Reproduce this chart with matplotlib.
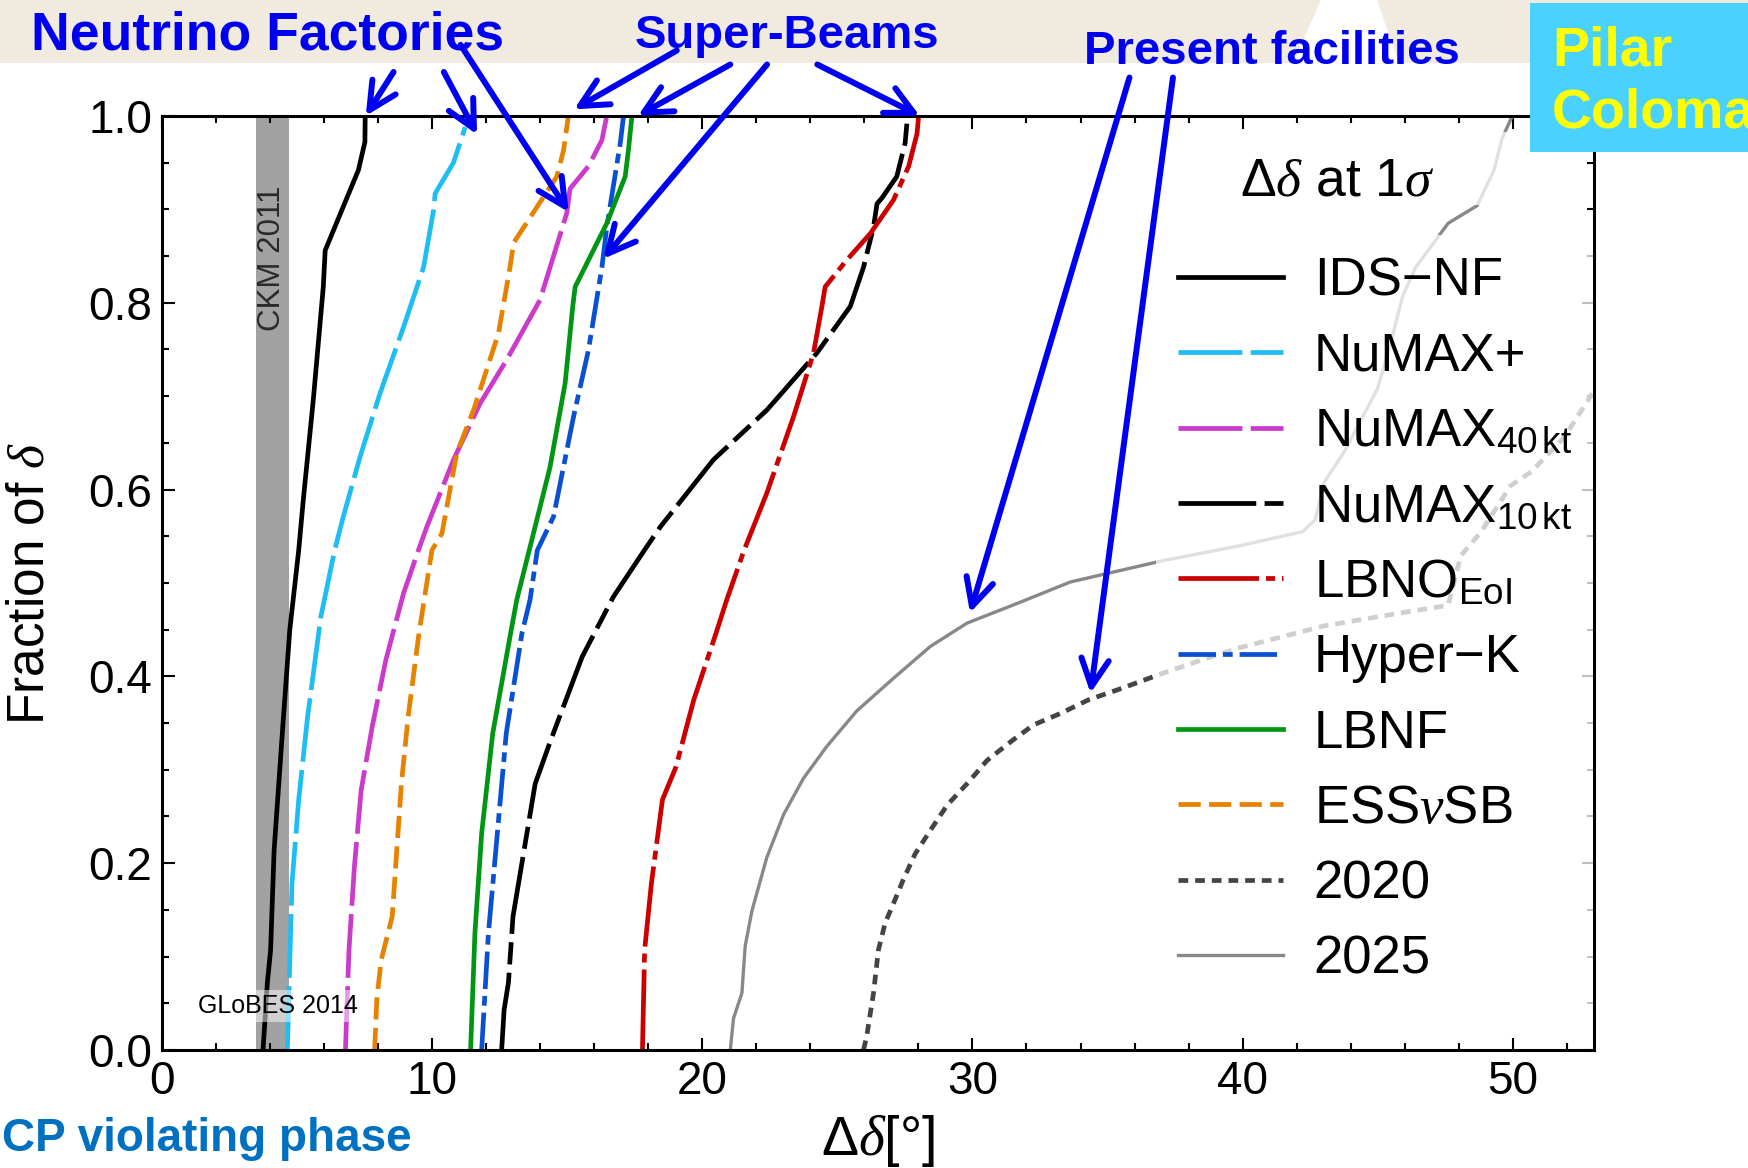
import matplotlib
matplotlib.use("Agg")
import matplotlib.pyplot as plt
from matplotlib.patches import Rectangle, Polygon

plt.rcParams['font.family'] = ['Liberation Sans', 'DejaVu Sans']
plt.rcParams['mathtext.fontset'] = 'custom'
plt.rcParams['mathtext.rm'] = 'Liberation Sans'
plt.rcParams['mathtext.it'] = 'Liberation Serif:italic'
plt.rcParams['mathtext.bf'] = 'Liberation Sans:bold'
plt.rcParams['lines.scale_dashes'] = False

# --- data: fraction of delta (y) vs Delta delta in degrees (x) ---
ids_y = [0, 0.072, 0.107, 0.214, 0.35, 0.45, 0.535, 0.589, 0.696, 0.817, 0.856, 0.942, 0.972, 1.0]
ids_x = [3.75, 3.91, 4.03, 4.16, 4.49, 4.74, 5.07, 5.24, 5.61, 5.98, 6.05, 7.28, 7.52, 7.53]

numaxp_y = [0, 0.178, 0.268, 0.357, 0.464, 0.535, 0.571, 0.635, 0.703, 0.774, 0.838, 0.899, 0.917, 0.95, 0.988]
numaxp_x = [4.65, 4.82, 5.07, 5.40, 5.89, 6.40, 6.72, 7.34, 8.08, 8.95, 9.69, 10.06, 10.12, 10.8, 11.23]

numax40_y = [0, 0.107, 0.196, 0.278, 0.346, 0.417, 0.489, 0.535, 0.56, 0.632, 0.692, 0.739, 0.803,
             0.896, 0.922, 0.946, 0.974, 1.0]
numax40_x = [6.80, 6.93, 7.13, 7.38, 7.79, 8.29, 8.95, 9.50, 9.81, 10.80, 11.78, 12.77, 14.0,
             14.99, 15.11, 15.79, 16.29, 16.47]

numax10_y = [0, 0.043, 0.072, 0.143, 0.214, 0.285, 0.332, 0.421, 0.485, 0.535, 0.560, 0.632, 0.685,
             0.746, 0.796, 0.838, 0.881, 0.906, 0.912, 0.935, 0.971, 1.0]
numax10_x = [12.58, 12.67, 12.83, 13.0, 13.41, 13.82, 14.40, 15.56, 16.71, 17.86, 18.45, 20.42, 22.39,
             24.24, 25.48, 25.97, 26.34, 26.47, 26.65, 27.2, 27.51, 27.6]

lbno_y = [0, 0.107, 0.178, 0.268, 0.303, 0.375, 0.446, 0.482, 0.535, 0.596, 0.678, 0.746, 0.796,
          0.817, 0.846, 0.874, 0.910, 0.946, 0.981, 1.0]
lbno_x = [17.79, 17.87, 18.12, 18.53, 19.03, 19.69, 20.51, 20.91, 21.55, 22.39, 23.38, 24.12, 24.43,
          24.55, 25.36, 26.22, 27.08, 27.64, 27.95, 28.01]

hk_y = [0, 0.125, 0.232, 0.339, 0.446, 0.482, 0.535, 0.571, 0.678, 0.749, 0.838, 0.881, 0.971, 1.0]
hk_x = [11.84, 12.09, 12.42, 12.75, 13.33, 13.63, 13.9, 14.50, 15.24, 15.79, 16.29, 16.47, 16.97, 17.09]

lbnf_y = [0, 0.125, 0.232, 0.339, 0.446, 0.482, 0.535, 0.624, 0.714, 0.796, 0.817, 0.885, 0.935, 0.963, 1.0]
lbnf_x = [11.43, 11.59, 11.84, 12.25, 12.91, 13.14, 13.6, 14.37, 14.93, 15.21, 15.30, 16.47, 17.15, 17.27, 17.40]

ess_y = [0, 0.054, 0.096, 0.143, 0.214, 0.285, 0.357, 0.446, 0.535, 0.553, 0.639, 0.685, 0.767,
         0.838, 0.864, 0.935, 0.963, 1.0]
ess_x = [7.88, 7.96, 8.12, 8.53, 8.70, 8.87, 9.12, 9.52, 10.0, 10.37, 10.92, 11.54, 12.46,
         12.89, 13.02, 14.62, 14.87, 15.05]

y2020 = [0, 0.015, 0.061, 0.107, 0.136, 0.157, 0.183, 0.210, 0.235, 0.262, 0.287, 0.310, 0.331, 0.348,
         0.361, 0.375, 0.386, 0.403, 0.417, 0.431, 0.454, 0.469, 0.476, 0.529, 0.555, 0.604, 0.619,
         0.656, 0.698, 0.73]
x2020 = [25.97, 26.09, 26.34, 26.52, 26.77, 27.08, 27.45, 27.88, 28.44, 29.06, 29.86, 30.54, 31.46, 32.26,
         33.31, 34.30, 35.41, 37.01, 38.43, 39.93, 43.0, 46.07, 47.60, 48.07, 48.83, 49.91, 50.68,
         51.90, 52.83, 53.5]

y2025 = [0, 0.034, 0.061, 0.111, 0.149, 0.206, 0.252, 0.291, 0.325, 0.363, 0.398, 0.432, 0.457, 0.478,
         0.501, 0.524, 0.540, 0.555, 0.568, 0.607, 0.641, 0.708, 0.754, 0.807, 0.837, 0.885, 0.904,
         0.942, 0.976, 1.0]
x2025 = [21.04, 21.16, 21.47, 21.59, 21.84, 22.39, 23.01, 23.75, 24.61, 25.72, 27.08, 28.44, 29.80, 31.65,
         33.62, 37.07, 39.93, 42.23, 42.69, 43.0, 43.77, 44.99, 45.45, 45.92, 46.38, 47.60, 48.68,
         49.30, 49.60, 49.98]

labels = ["IDS\u2212NF", "NuMAX+", r"NuMAX$_{\rm 40\,kt}$", r"NuMAX$_{\rm 10\,kt}$", r"LBNO$_{\rm EoI}$",
          "Hyper\u2212K", "LBNF", r"ESS$\nu$SB", "2020", "2025"]

# arrows: (start x, start y) -> (end x, end y) in data units
arrows_nf = [((8.58, 1.047), (7.55, 1.0)), ((10.44, 1.047), (11.67, 0.98)), ((11.06, 1.076), (15.06, 0.897))]
arrows_sb = [((19.06, 1.070), (15.26, 1.007)), ((21.04, 1.055), (17.62, 1.0)),
             ((22.4, 1.055), (16.34, 0.847)), ((24.26, 1.055), (28.05, 1.0))]
arrows_pf = [((35.81, 1.041), (29.91, 0.468)), ((37.42, 1.041), (34.37, 0.382))]

W, H = 1748, 1168
fig = plt.figure(figsize=(W / 100, H / 100), dpi=100)

def fx(px):
    return px / W

def fy(py):
    return 1 - py / H

# slide background pieces
fig.patches.append(Rectangle((0, fy(63)), 1, 63 / H, transform=fig.transFigure,
                             facecolor='#F0EADF', edgecolor='none', zorder=-2))
fig.patches.append(Polygon([(fx(1321), fy(0)), (fx(1377), fy(0)), (fx(1399), fy(63)), (fx(1293), fy(63))],
                           closed=True, transform=fig.transFigure, facecolor='white', edgecolor='none', zorder=-1))

ax = fig.add_axes([0.0925, 0.101, 0.8194, 0.7998])

ax.axvspan(3.5, 4.7, color='#A2A2A2', zorder=0, lw=0)
ax.text(4.1, 0.848, 'CKM 2011', rotation=90, ha='center', va='center', fontsize=22.5, color='#2A2A2A')

lw = 3.4
ax.plot(ids_x, ids_y, color='black', lw=lw, label=labels[0])
ax.plot(numaxp_x, numaxp_y, color='#1EBEF5', lw=lw, dashes=(46, 6), label=labels[1])
ax.plot(numax40_x, numax40_y, color='#CC3ACC', lw=lw, dashes=(46, 6), label=labels[2])
ax.plot(numax10_x, numax10_y, color='black', lw=lw, dashes=(56, 6, 16, 6), label=labels[3])
ax.plot(lbno_x, lbno_y, color='#CC0000', lw=lw, dashes=(58, 5, 6.5, 5), label=labels[4])
ax.plot(hk_x, hk_y, color='#0A50D2', lw=lw, dashes=(27, 5, 7, 5), label=labels[5])
ax.plot(lbnf_x, lbnf_y, color='#009614', lw=lw, label=labels[6])
ax.plot(ess_x, ess_y, color='#E68200', lw=lw, dashes=(16, 6), label=labels[7])
ax.plot(x2020, y2020, color='#444444', lw=lw, dashes=(7, 5), label=labels[8])
ax.plot(x2025, y2025, color='#888888', lw=2.4, label=labels[9])

ax.text(1.35, 0.047, 'GLoBES 2014', fontsize=18, va='center', ha='left', zorder=6,
        bbox=dict(facecolor='white', edgecolor='none', alpha=0.5, pad=3))

ax.set_xlim(0, 53.0)
ax.set_ylim(0, 1.0)
ax.set_xticks([0, 10, 20, 30, 40, 50])
ax.set_xticks(range(0, 54, 2), minor=True)
ax.set_yticks([0, 0.2, 0.4, 0.6, 0.8, 1.0])
ax.set_yticks([i * 0.05 for i in range(21)], minor=True)
ax.set_yticklabels(['0.0', '0.2', '0.4', '0.6', '0.8', '1.0'])
ax.tick_params(which='both', direction='in', top=True, right=True, width=1.5, color='black')
ax.tick_params(which='major', length=9, labelsize=33, pad=7)
ax.tick_params(which='minor', length=5)
for s in ax.spines.values():
    s.set_linewidth(2.2)

ax.set_xlabel(r"$\Delta\delta[°]$", fontsize=40)
ax.xaxis.set_label_coords(0.5, -0.067)
ax.set_ylabel(r"Fraction of $\delta$", fontsize=37)
ax.yaxis.set_label_coords(-0.075, 0.5)

# legend title sits in its own translucent box above the legend
ax.add_patch(Rectangle((0.70, 0.905), 0.28, 0.078, transform=ax.transAxes, facecolor='white',
                       edgecolor='none', alpha=0.75, zorder=4))
ax.text(0.821, 0.9295, r"$\Delta\delta$ at 1$\sigma$", transform=ax.transAxes, fontsize=38.5,
        ha='center', va='center', zorder=5)

leg = ax.legend(loc='upper left', bbox_to_anchor=(0.6945, 0.872), borderaxespad=0, fontsize=38,
                handlelength=2.0, handletextpad=0.58, labelspacing=0.48, frameon=True, fancybox=False)
leg.get_frame().set_facecolor('white')
leg.get_frame().set_alpha(0.75)
leg.get_frame().set_edgecolor('none')

# arrows
for group in (arrows_nf, arrows_sb, arrows_pf):
    for (x0, y0), (x1, y1) in group:
        ax.annotate('', xy=(x1, y1), xytext=(x0, y0), xycoords='data', textcoords='data',
                    annotation_clip=False, zorder=10,
                    arrowprops=dict(arrowstyle='->,head_length=0.9,head_width=0.45', color='#0000F0',
                                    lw=4.3, mutation_scale=22, shrinkA=0, shrinkB=0))

# headers
fig.text(fx(31), fy(36), 'Neutrino Factories', fontsize=38.5, fontweight='bold', color='#0000F0',
         ha='left', va='center')
fig.text(fx(635), fy(36), 'Super-Beams', fontsize=34, fontweight='bold', color='#0000F0',
         ha='left', va='center')
fig.text(fx(1084), fy(52), 'Present facilities', fontsize=34, fontweight='bold', color='#0000F0',
         ha='left', va='center')
fig.text(fx(412), fy(1139), 'CP violating phase', fontsize=33, fontweight='bold', color='#0070C0',
         ha='right', va='center')

fig.patches.append(Rectangle((fx(1530), fy(152)), 1 - fx(1530), 149 / H, transform=fig.transFigure,
                             facecolor='#4AD2FF', edgecolor='none', zorder=20))
fig.text(fx(1552), fy(65), 'Pilar', fontsize=40, fontweight='bold', color='#FFFF00',
         ha='left', va='baseline', zorder=21)
fig.text(fx(1552), fy(128), 'Coloma', fontsize=40, fontweight='bold', color='#FFFF00',
         ha='left', va='baseline', zorder=21)

fig.savefig('out.png', dpi=100)
